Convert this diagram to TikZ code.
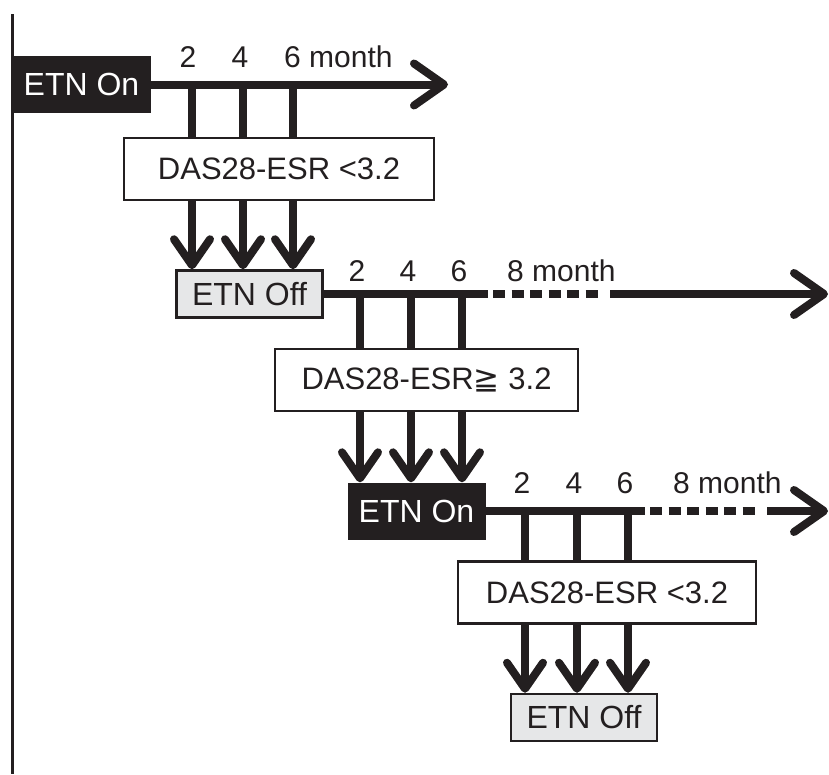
\documentclass[tikz,border=0pt]{standalone}
\usepackage{fontspec}
\setmainfont{Liberation Sans}
\newfontfamily\symfont{DejaVu Sans}
\usetikzlibrary{arrows.meta}
\definecolor{inkblack}{RGB}{35,31,32}
\definecolor{offgray}{RGB}{230,231,232}

\begin{document}
\begin{tikzpicture}[x=1pt, y=-1pt,
    onbox/.style={fill=inkblack, text=white, minimum width=138pt, minimum height=57pt, inner sep=0pt, font=\fontsize{32}{32}\selectfont},
    offbox/.style={draw=inkblack, line width=2.5pt, fill=offgray, text=inkblack, minimum width=146pt, minimum height=47pt, inner sep=0pt, font=\fontsize{32}{32}\selectfont},
    dasbox/.style={draw=inkblack, line width=2.5pt, fill=white, text=inkblack, minimum width=303pt, minimum height=62pt, inner sep=0pt, font=\fontsize{31}{31}\selectfont},
    lbl/.style={anchor=base, inner sep=0pt, text=inkblack, font=\fontsize{30}{30}\selectfont},
    tick/.style={draw=inkblack, line width=8pt},
    down/.style={draw=inkblack, line width=8pt, -{Straight Barb[length=26pt, width=36pt, round]}},
    timeline/.style={draw=inkblack, line width=8pt, -{Straight Barb[length=30pt, width=42pt, round]}},
    gap/.style={draw=inkblack, line width=8pt, dash pattern=on 12pt off 6.5pt}
]
\useasboundingbox (0,0) rectangle (829,774);
% left rule
\draw[inkblack, line width=3pt] (12.5,14) -- (12.5,774);

% Boxes
\node[onbox]  (on1)  at (81.5,84.5) {ETN On};
\node[dasbox, minimum width=310pt] (das1) at (279,169) {DAS28-ESR <3.2};
\node[offbox] (off1) at (249.5,294) {ETN Off};
\node[dasbox] (das2) at (426.5,380) {DAS28-ESR{\symfont ≧} 3.2};
\node[onbox]  (on2)  at (416.5,511) {ETN On};
\node[dasbox, minimum width=298pt] (das3) at (607,592.5) {DAS28-ESR <3.2};
\node[offbox] (off2) at (584,717.5) {ETN Off};

% Timeline 1
\coordinate (e1) at (448,84.5);
\draw[timeline] (on1.east) -- (e1);
\coordinate (a1) at (192,84.5);
\coordinate (a2) at (243,84.5);
\coordinate (a3) at (293,84.5);
\node[lbl] (m1a) at (188,67) {2};
\node[lbl] (m1b) at (240,67) {4};
\node[lbl, anchor=base west] (m1c) at (284,67) {6 month};

% Timeline 2
\coordinate (g2a) at (488,294);
\coordinate (g2b) at (493,294);
\coordinate (g2c) at (598,294);
\coordinate (g2d) at (610,294);
\coordinate (e2) at (828,294);
\draw[tick] (off1.east) -- (g2a);
\draw[gap] (g2b) -- (g2c);
\draw[timeline] (g2d) -- (e2);
\coordinate (b1) at (360,294);
\coordinate (b2) at (411,294);
\coordinate (b3) at (462,294);
\node[lbl] (m2a) at (357,281) {2};
\node[lbl] (m2b) at (408,281) {4};
\node[lbl] (m2c) at (459,281) {6};
\node[lbl, anchor=base west] (m2d) at (507,281) {8 month};

% Timeline 3
\coordinate (g3a) at (645,511);
\coordinate (g3b) at (650,511);
\coordinate (g3c) at (755,511);
\coordinate (g3d) at (767,511);
\coordinate (e3) at (828,511);
\draw[tick] (on2.east) -- (g3a);
\draw[gap] (g3b) -- (g3c);
\draw[timeline] (g3d) -- (e3);
\coordinate (c1) at (525,511);
\coordinate (c2) at (577,511);
\coordinate (c3) at (628,511);
\node[lbl] (m3a) at (522,493) {2};
\node[lbl] (m3b) at (574,493) {4};
\node[lbl] (m3c) at (625,493) {6};
\node[lbl, anchor=base west] (m3d) at (673,493) {8 month};

% Checks into the score boxes
\draw[tick] (a1) -- (a1 |- das1.north);
\draw[tick] (a2) -- (a2 |- das1.north);
\draw[tick] (a3) -- (a3 |- das1.north);
\draw[tick] (b1) -- (b1 |- das2.north);
\draw[tick] (b2) -- (b2 |- das2.north);
\draw[tick] (b3) -- (b3 |- das2.north);
\draw[tick] (c1) -- (c1 |- das3.north);
\draw[tick] (c2) -- (c2 |- das3.north);
\draw[tick] (c3) -- (c3 |- das3.north);

% Outcomes
\draw[down] (a1 |- das1.south) -- (a1 |- off1.north);
\draw[down] (a2 |- das1.south) -- (a2 |- off1.north);
\draw[down] (a3 |- das1.south) -- (a3 |- off1.north);
\draw[down] (b1 |- das2.south) -- (b1 |- on2.north);
\draw[down] (b2 |- das2.south) -- (b2 |- on2.north);
\draw[down] (b3 |- das2.south) -- (b3 |- on2.north);
\draw[down] (c1 |- das3.south) -- (c1 |- off2.north);
\draw[down] (c2 |- das3.south) -- (c2 |- off2.north);
\draw[down] (c3 |- das3.south) -- (c3 |- off2.north);
\end{tikzpicture}
\end{document}
